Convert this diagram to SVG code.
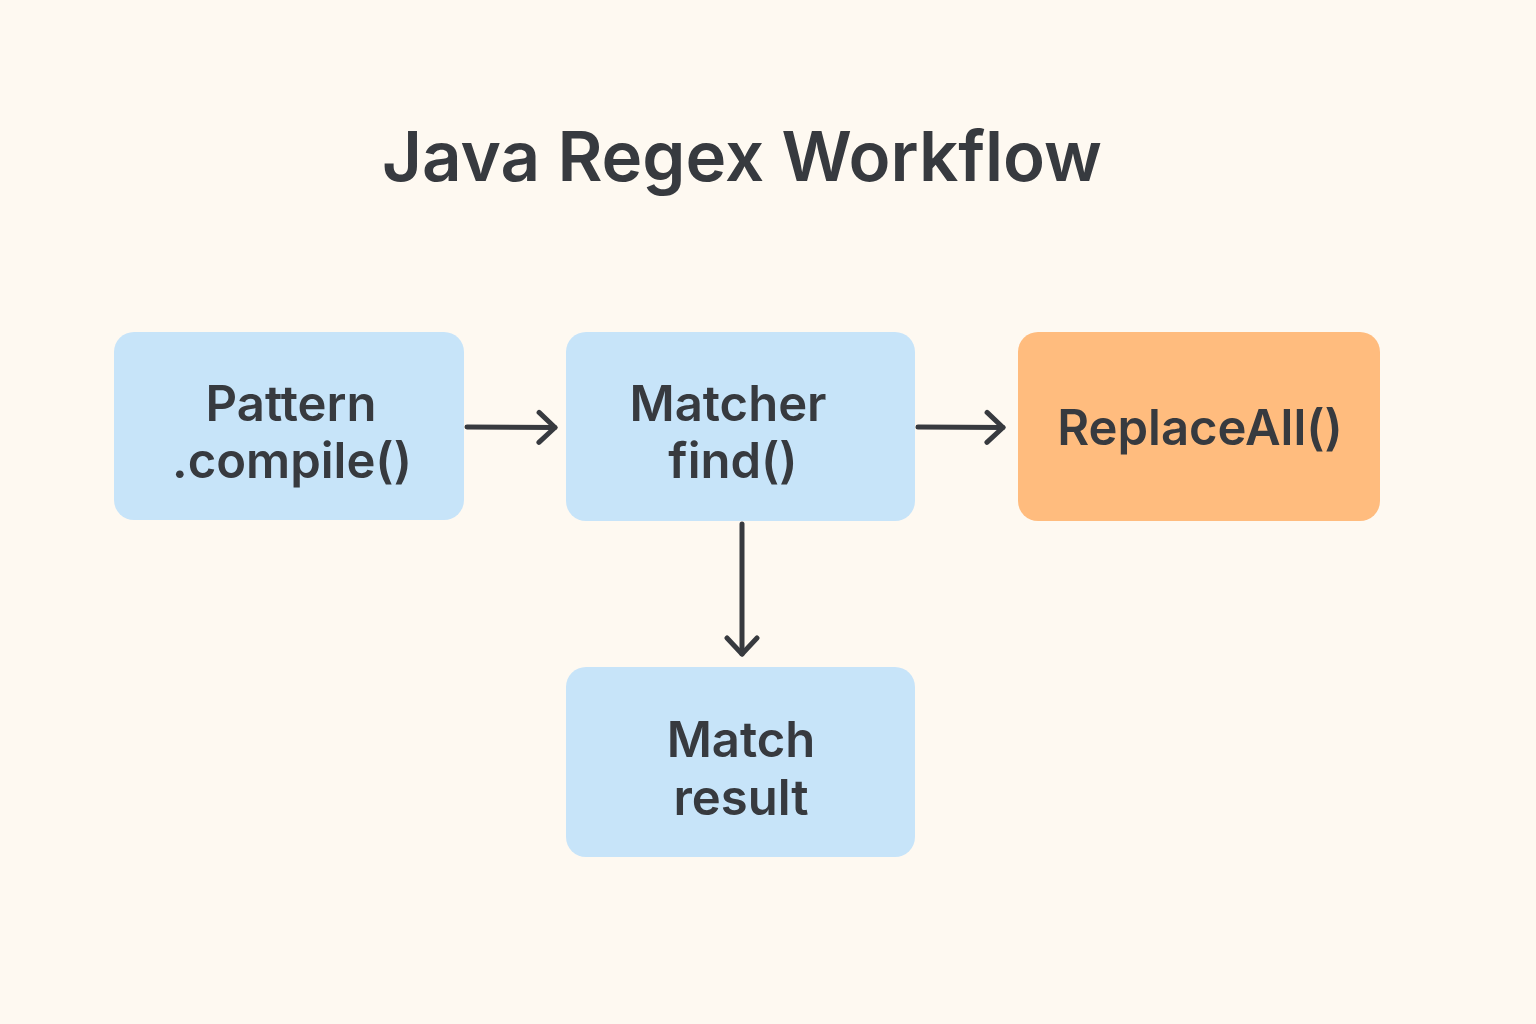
<svg xmlns="http://www.w3.org/2000/svg" width="1536" height="1024" viewBox="0 0 1536 1024">
<defs>
<style>
.bg{fill:#FEF9F1}
.box{fill:#C7E4F9}
.orange{fill:#FFBC7E}
.t{font-family:Inter,"Noto Sans","Liberation Sans",sans-serif;font-weight:600;fill:#373A3F;text-anchor:middle}
.lbl{font-size:49px}
.title{font-size:69px}
.conn{stroke:#373A3F;stroke-width:5;fill:none;stroke-linecap:round;stroke-linejoin:round}
</style>
<marker id="arrow" viewBox="0 0 24 36" refX="20" refY="18" markerWidth="24" markerHeight="36" markerUnits="userSpaceOnUse" orient="auto">
<path d="M4,3 L20,18 L4,33" fill="none" stroke="#373A3F" stroke-width="5" stroke-linecap="round" stroke-linejoin="round"/>
</marker>
</defs>
<rect class="bg" x="0" y="0" width="1536" height="1024"/>
<text id="title" class="t title" x="742" y="181">Java Regex Workflow</text>
<g id="pattern">
<rect class="box" x="114" y="332" width="350" height="188" rx="20"/>
<text class="t lbl" x="291" y="421">Pattern</text>
<text class="t lbl" x="292" y="478">.compile()</text>
</g>
<g id="matcher">
<rect class="box" x="566" y="332" width="349" height="189" rx="20"/>
<text class="t lbl" x="728" y="421">Matcher</text>
<text class="t lbl" x="733" y="478">find()</text>
</g>
<g id="replaceall">
<rect class="orange" x="1018" y="332" width="362" height="189" rx="20"/>
<text class="t lbl" x="1200" y="445">ReplaceAll()</text>
</g>
<g id="matchresult">
<rect class="box" x="566" y="667" width="349" height="190" rx="20"/>
<text class="t lbl" x="741" y="757">Match</text>
<text class="t lbl" x="741" y="815">result</text>
</g>
<g id="connectors">
<path class="conn" d="M467,427 L555,427.5" marker-end="url(#arrow)"/>
<path class="conn" d="M918,427 L1003,427.5" marker-end="url(#arrow)"/>
<path class="conn" d="M742,524 L742,654" marker-end="url(#arrow)"/>
</g>
</svg>
